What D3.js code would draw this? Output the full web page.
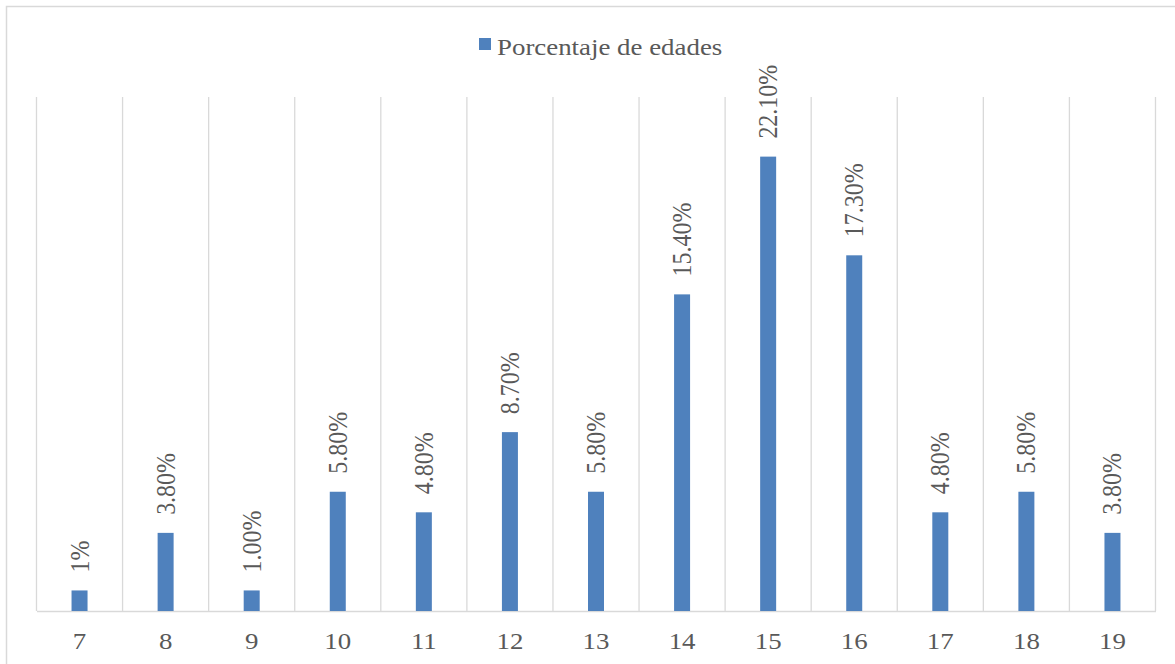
<!DOCTYPE html>
<html>
<head>
<meta charset="utf-8">
<script src="https://cdn.jsdelivr.net/npm/d3@7"></script>
<style>
  html, body { margin: 0; padding: 0; background: #ffffff; }
  svg { display: block; }
</style>
</head>
<body>
<script>
// Age distribution of respondents
const ages = ["7", "8", "9", "10", "11", "12", "13", "14", "15", "16", "17", "18", "19"];
const percentages = [1, 3.8, 1.0, 5.8, 4.8, 8.7, 5.8, 15.4, 22.1, 17.3, 4.8, 5.8, 3.8];
const valueLabels = ["1%", "3.80%", "1.00%", "5.80%", "4.80%", "8.70%", "5.80%", "15.40%", "22.10%", "17.30%", "4.80%", "5.80%", "3.80%"];
const seriesName = "Porcentaje de edades";

const W = 1175, H = 664;
const plot = { left: 36.5, right: 1155.5, top: 97, bottom: 611 };
const fontSize = 24;
const fontFamily = "'Liberation Serif', 'Times New Roman', Tinos, 'DejaVu Serif', serif";
const textColor = "#595959";
const stretch = 1.12;   // glyphs are drawn slightly wide
const barColor = "#4f81bd";
const gridColor = "#d9d9d9";

const svg = d3.select("body").append("svg")
  .attr("width", W).attr("height", H);

function styleText(sel) {
  return sel.style("font-family", fontFamily)
    .style("font-size", fontSize + "px")
    .style("fill", textColor);
}

// chart frame
svg.append("rect")
  .attr("x", 6.5).attr("y", 6.5)
  .attr("width", W + 20).attr("height", H + 20)
  .attr("fill", "none").attr("stroke", gridColor).attr("stroke-width", 1.5);

const x = d3.scaleBand().domain(ages).range([plot.left, plot.right]).padding(0);
const y = d3.scaleLinear().domain([0, 25]).range([plot.bottom, plot.top]);

// vertical category gridlines
const bounds = ages.map(a => x(a)).concat([plot.right]);
svg.append("g").selectAll("line").data(bounds).join("line")
  .attr("x1", d => d).attr("x2", d => d)
  .attr("y1", plot.top).attr("y2", plot.bottom)
  .attr("stroke", gridColor).attr("stroke-width", 1.3);

// category axis
const xAxis = svg.append("g")
  .attr("transform", `translate(0,${plot.bottom})`)
  .call(d3.axisBottom(x).tickSize(0).tickPadding(0));
xAxis.select(".domain").attr("stroke", gridColor).attr("stroke-width", 1.5);
styleText(xAxis.selectAll(".tick text"))
  .attr("dy", null)
  .attr("y", 0)
  .attr("transform", "translate(0,38) scale(" + stretch + ",1)");

// bars
const barW = 16;
const data = ages.map((a, i) => ({ age: a, v: percentages[i], label: valueLabels[i] }));
svg.append("g").selectAll("rect").data(data).join("rect")
  .attr("x", d => x(d.age) + x.bandwidth() / 2 - barW / 2)
  .attr("y", d => y(d.v))
  .attr("width", barW)
  .attr("height", d => y(0) - y(d.v))
  .attr("fill", barColor);

// rotated value labels above each bar
styleText(svg.append("g").selectAll("text").data(data).join("text"))
  .attr("transform", d => `translate(${x(d.age) + x.bandwidth() / 2},${y(d.v) - 18}) scale(${stretch},1) rotate(-90)`)
  .attr("x", 0).attr("y", 8)
  .text(d => d.label);

// legend
const lg = svg.append("g").attr("transform", "translate(479,38)");
lg.append("rect").attr("width", 12).attr("height", 12).attr("fill", barColor);
styleText(lg.append("text"))
  .attr("transform", `translate(18,17) scale(${stretch},1)`)
  .text(seriesName);
</script>
</body>
</html>
